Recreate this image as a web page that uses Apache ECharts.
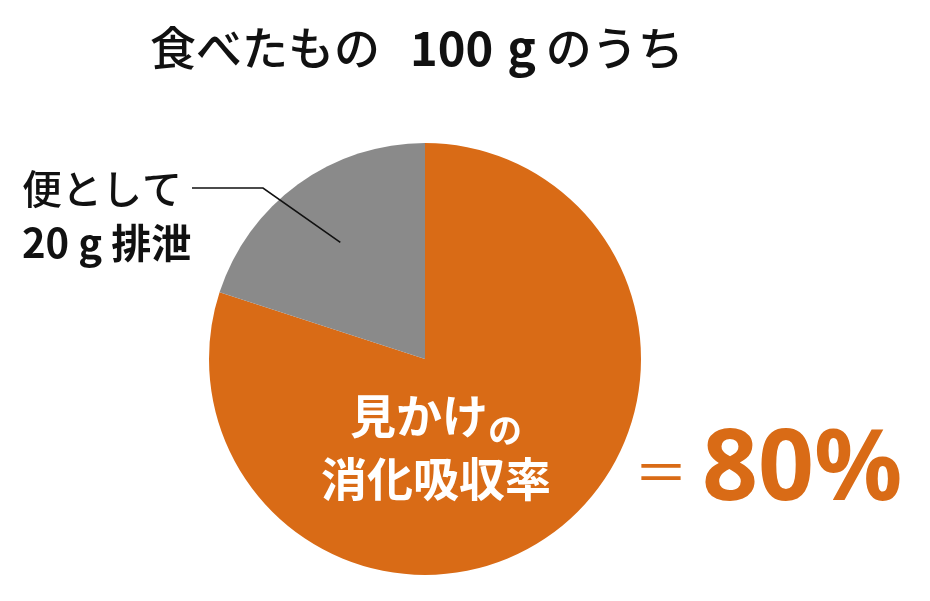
<!DOCTYPE html>
<html><head><meta charset="utf-8">
<script src="https://cdn.jsdelivr.net/npm/echarts@6/dist/echarts.min.js"></script>
<style>html,body{margin:0;padding:0;background:#fff}#c{width:930px;height:601px}</style>
</head><body><div id="c"></div>
<script>
// ---- data ----
const categories = ['見かけの消化吸収率', '便として20g排泄'];
const values = [80, 20];
const colors = ['#d96b16', '#8a8a8a'];
const titleParts = ['食べたもの', '100', 'g', 'のうち'];
const grayLabelLines = ['便として', '20 g 排泄'];
const orangeLabelLines = ['見かけ', 'の', '消化吸収率'];
const resultParts = ['＝', '80%'];

// ---- layout ----
const CX = 425, CY = 359, R = 216;
const JP = '"Noto Sans CJK JP", "Noto Sans", sans-serif';
const total = values.reduce((a, b) => a + b, 0);

function midAngle(i) { // clockwise from 12 o'clock, radians
  let s = 0;
  for (let k = 0; k < i; k++) s += values[k];
  return ((s + values[i] / 2) / total) * Math.PI * 2;
}
const ga = midAngle(1);
const r0 = R * 0.667;
const leaderStart = [CX + r0 * Math.sin(ga), CY - r0 * Math.cos(ga)];

const chart = echarts.init(document.getElementById('c'), null, { renderer: 'canvas' });
chart.setOption({
  backgroundColor: '#fff',
  animation: false,
  graphic: [
    {
      type: 'text', left: 150, top: 24, z: 100,
      style: {
        rich: {
          a: { fontFamily: JP, fontSize: 46, fontWeight: 500, fill: '#111', lineHeight: 52 },
          b: { fontFamily: JP, fontSize: 47, fontWeight: 700, fill: '#111', lineHeight: 52, padding: [0, 0, 0, 30] },
          g: { fontFamily: JP, fontSize: 48, fontWeight: 700, fill: '#111', lineHeight: 52, padding: [0, 0, 0, 14] },
          c: { fontFamily: JP, fontSize: 46, fontWeight: 500, fill: '#111', lineHeight: 52, padding: [0, 0, 0, 10] }
        },
        text: '{a|' + titleParts[0] + '}{b|' + titleParts[1] + '}{g|' + titleParts[2] + '}{c|' + titleParts[3] + '}'
      }
    },
    {
      type: 'text', left: 634, top: 423, z: 100,
      style: {
        rich: {
          eq: { fontFamily: JP, fontSize: 54, fontWeight: 400, fill: colors[0], lineHeight: 100 },
          n: { fontFamily: '"Noto Sans", sans-serif', fontSize: 98, fontWeight: 700, fill: colors[0], lineHeight: 100, padding: [0, 0, 0, 14] }
        },
        text: '{eq|' + resultParts[0] + '}{n|' + resultParts[1] + '}'
      }
    },
    {
      type: 'polyline', z: 100,
      shape: { points: [leaderStart, [263, 188], [192, 188]] },
      style: { stroke: '#111', lineWidth: 1.6, fill: null }
    }
  ],
  series: [{
    type: 'pie',
    center: [CX, CY],
    radius: [0, R],
    startAngle: 90,
    clockwise: true,
    avoidLabelOverlap: false,
    itemStyle: { borderWidth: 0 },
    emphasis: { disabled: true },
    labelLine: { show: false },
    data: categories.map((name, i) => {
      const d = { name, value: values[i], itemStyle: { color: colors[i] } };
      if (i === 0) {
        d.label = {
          show: true, position: 'inside',
          formatter: '{m|' + orangeLabelLines[0] + '}{s|' + orangeLabelLines[1] + '}\n{m|' + orangeLabelLines[2] + '}',
          rich: {
            m: { fontFamily: JP, fontSize: 46, fontWeight: 700, color: '#fff', lineHeight: 63 },
            s: { fontFamily: JP, fontSize: 34, fontWeight: 700, color: '#fff', lineHeight: 63, verticalAlign: 'bottom' }
          }
        };
      } else {
        d.label = {
          show: true, position: 'outside',
          formatter: '{a|' + grayLabelLines[0] + '}\n{b|' + grayLabelLines[1] + '}',
          rich: {
            a: { fontFamily: JP, fontSize: 40, fontWeight: 500, color: '#111', lineHeight: 54 },
            b: { fontFamily: JP, fontSize: 40, fontWeight: 700, color: '#111', lineHeight: 54 }
          }
        };
      }
      d.labelLine = { show: false };
      return d;
    }),
    labelLayout: function (p) {
      if (p.dataIndex === 0) {
        return { x: CX + 11, y: CY + 88, align: 'center', verticalAlign: 'middle' };
      }
      return { x: 22, y: 216, align: 'left', verticalAlign: 'middle' };
    }
  }]
});
</script>
</body></html>
